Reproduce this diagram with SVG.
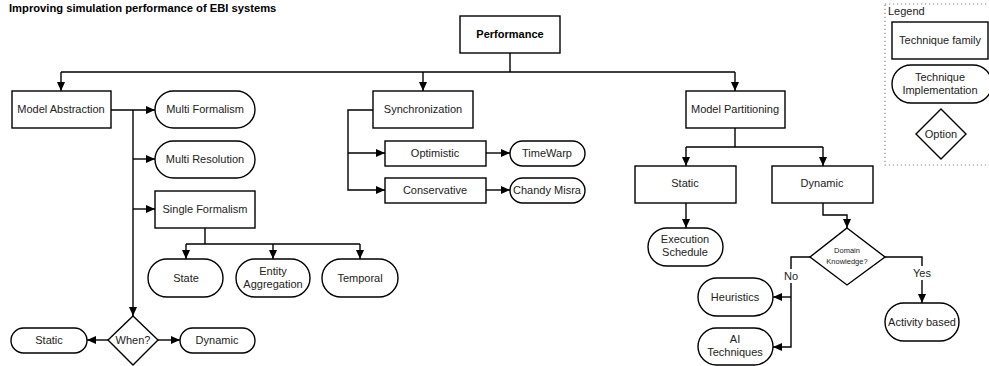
<svg xmlns="http://www.w3.org/2000/svg" width="989" height="366" viewBox="0 0 989 366">
<defs>
<marker id="ah" markerWidth="9" markerHeight="8" refX="9" refY="4" orient="auto" markerUnits="userSpaceOnUse">
<path d="M0,0 L9,4 L0,8 Z" fill="#000"/>
</marker>
<style>
.box{fill:#fff;stroke:#000;stroke-width:1.4}
.t{font-family:"Liberation Sans",Arial,sans-serif;font-size:11px;fill:#222;text-anchor:middle}
.b{font-weight:bold;fill:#000}
.c{fill:none;stroke:#000;stroke-width:1.4}
.a{marker-end:url(#ah)}
</style>
</defs>
<rect width="989" height="366" fill="#fff"/>
<text x="9" y="12" class="t b" style="text-anchor:start;font-size:11.2px">Improving simulation performance of EBI systems</text>

<g id="legend">
<rect x="885" y="4" width="110" height="161" fill="none" stroke="#888" stroke-width="1.2" stroke-dasharray="1.2,2.8"/>
<text x="888" y="15" class="t" style="text-anchor:start">Legend</text>
<rect class="box" x="892" y="22" width="96" height="37"/>
<text x="940" y="44" class="t">Technique family</text>
<rect class="box" x="892" y="65" width="100" height="38" rx="19"/>
<text x="940" y="81" class="t">Technique</text>
<text x="940" y="94" class="t">Implementation</text>
<polygon class="box" points="941,109 966,134 941,159 916,134"/>
<text x="941" y="138" class="t">Option</text>
</g>

<g id="connectors">
<path class="c" d="M510,53 V72 M61,72 H735"/>
<path class="c a" d="M61,72 V91"/>
<path class="c a" d="M423,72 V91"/>
<path class="c a" d="M735,72 V91"/>
<path class="c a" d="M111,110 H155"/>
<path class="c a" d="M133,110 V316"/>
<path class="c a" d="M133,159 H155"/>
<path class="c a" d="M133,209 H155"/>
<path class="c" d="M205,228 V244 M186,244 H360"/>
<path class="c a" d="M186,244 V259"/>
<path class="c a" d="M273,244 V259"/>
<path class="c a" d="M360,244 V259"/>
<path class="c a" d="M108,340 H87"/>
<path class="c a" d="M158,340 H180"/>
<path class="c a" d="M373,110 H348 V190 H385"/>
<path class="c a" d="M348,153 H385"/>
<path class="c a" d="M486,153 H510"/>
<path class="c a" d="M486,190 H510"/>
<path class="c" d="M735,128 V147 M686,147 H823"/>
<path class="c a" d="M686,147 V166"/>
<path class="c a" d="M823,147 V166"/>
<path class="c a" d="M686,203 V228"/>
<path class="c a" d="M823,203 V215 H847 V228"/>
<path class="c a" d="M810,257 H791 V347 H773"/>
<path class="c a" d="M791,297 H773"/>
<path class="c a" d="M885,257 H922 V303"/>
<rect x="782" y="269" width="18" height="14" fill="#fff"/>
<text x="791" y="280" class="t">No</text>
<rect x="911" y="266" width="22" height="14" fill="#fff"/>
<text x="922" y="277" class="t">Yes</text>
</g>

<g id="performance"><rect class="box" x="460" y="16" width="100" height="37"/><text x="510" y="38" class="t b">Performance</text></g>
<g id="model-abstraction"><rect class="box" x="12" y="91" width="99" height="37"/><text x="61" y="113" class="t">Model Abstraction</text></g>
<g id="synchronization"><rect class="box" x="373" y="91" width="100" height="37"/><text x="423" y="113" class="t">Synchronization</text></g>
<g id="model-partitioning"><rect class="box" x="686" y="91" width="99" height="37"/><text x="735" y="113" class="t">Model Partitioning</text></g>

<g id="multi-formalism"><rect class="box" x="155" y="91" width="100" height="37" rx="18.5"/><text x="205" y="113" class="t">Multi Formalism</text></g>
<g id="multi-resolution"><rect class="box" x="155" y="141" width="100" height="37" rx="18.5"/><text x="205" y="163" class="t">Multi Resolution</text></g>
<g id="single-formalism"><rect class="box" x="155" y="191" width="100" height="37"/><text x="205" y="213" class="t">Single Formalism</text></g>
<g id="state"><rect class="box" x="148" y="259" width="75" height="38" rx="19"/><text x="186" y="282" class="t">State</text></g>
<g id="entity-aggregation"><rect class="box" x="236" y="259" width="74" height="38" rx="19"/><text x="273" y="275" class="t">Entity</text><text x="273" y="288" class="t">Aggregation</text></g>
<g id="temporal"><rect class="box" x="322" y="259" width="76" height="38" rx="19"/><text x="360" y="282" class="t">Temporal</text></g>
<g id="when"><polygon class="box" points="133,316 158,340 133,365 108,340"/><text x="133" y="344" class="t">When?</text></g>
<g id="static-left"><rect class="box" x="11" y="328" width="76" height="25" rx="12.5"/><text x="49" y="344" class="t">Static</text></g>
<g id="dynamic-left"><rect class="box" x="180" y="328" width="75" height="25" rx="12.5"/><text x="217" y="344" class="t">Dynamic</text></g>

<g id="optimistic"><rect class="box" x="385" y="141" width="101" height="25"/><text x="435" y="157" class="t">Optimistic</text></g>
<g id="conservative"><rect class="box" x="385" y="178" width="101" height="25"/><text x="435" y="194" class="t">Conservative</text></g>
<g id="timewarp"><rect class="box" x="510" y="141" width="75" height="25" rx="12.5"/><text x="547" y="157" class="t">TimeWarp</text></g>
<g id="chandy-misra"><rect class="box" x="510" y="178" width="75" height="25" rx="12.5"/><text x="547" y="194" class="t">Chandy Misra</text></g>

<g id="static-right"><rect class="box" x="635" y="166" width="101" height="37"/><text x="685" y="187" class="t">Static</text></g>
<g id="dynamic-right"><rect class="box" x="772" y="166" width="101" height="37"/><text x="822" y="187" class="t">Dynamic</text></g>
<g id="execution-schedule"><rect class="box" x="648" y="228" width="75" height="38" rx="19"/><text x="685" y="243" class="t">Execution</text><text x="685" y="256" class="t">Schedule</text></g>
<g id="domain-knowledge"><polygon class="box" points="847,228 885,257 847,285 810,257"/><text x="847" y="253" class="t" style="font-size:7.5px">Domain</text><text x="847" y="264" class="t" style="font-size:7.5px">Knowledge?</text></g>
<g id="heuristics"><rect class="box" x="698" y="278" width="75" height="38" rx="19"/><text x="735" y="301" class="t">Heuristics</text></g>
<g id="ai-techniques"><rect class="box" x="698" y="328" width="75" height="37" rx="18.5"/><text x="735" y="343" class="t">AI</text><text x="735" y="356" class="t">Techniques</text></g>
<g id="activity-based"><rect class="box" x="885" y="303" width="74" height="38" rx="19"/><text x="922" y="326" class="t">Activity based</text></g>
</svg>
